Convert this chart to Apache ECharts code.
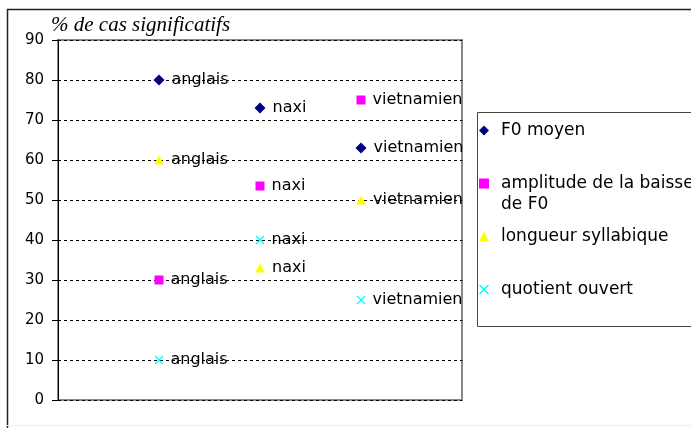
<!DOCTYPE html>
<html>
<head>
<meta charset="utf-8">
<script src="https://cdn.jsdelivr.net/npm/echarts@6/dist/echarts.min.js"></script>
<style>html,body{margin:0;padding:0;background:#fff;}#c{width:691px;height:428px;}</style>
</head>
<body>
<div id="c"></div>
<script>
const categories = ['anglais', 'naxi', 'vietnamien'];
const seriesNames = ['F0 moyen', 'amplitude de la baisse de F0', 'longueur syllabique', 'quotient ouvert'];
const f0Moyen = [80, 73, 63];
const amplitudeBaisse = [30, 53.5, 75];
const longueurSyllabique = [60, 33, 50];
const quotientOuvert = [10, 40, 25];
const yTicks = [0, 10, 20, 30, 40, 50, 60, 70, 80, 90];
const axisTitle = '% de cas significatifs';

const colors = ['#000080', '#FF00FF', '#FFFF00', '#00FFFF'];
const symbols = ['diamond', 'rect', 'triangle',
  'path://M0,1L1,0L5,4L9,0L10,1L6,5L10,9L9,10L5,6L1,10L0,9L4,5Z'];
const sizes = [[11, 11], [9, 9], [10, 9], [9, 9]];
const allValues = [f0Moyen, amplitudeBaisse, longueurSyllabique, quotientOuvert];

const FONT = 'DejaVu Sans';

const chart = echarts.init(document.getElementById('c'), null, {renderer: 'canvas'});
chart.setOption({
  backgroundColor: '#fff',
  animation: false,
  title: {
    text: axisTitle,
    left: 46, top: 10,
    textStyle: {fontFamily: 'Liberation Serif', fontStyle: 'italic', fontWeight: 'normal', fontSize: 21, color: '#000'}
  },
  grid: {left: 58, top: 40, right: 229, bottom: 28, show: true, borderColor: '#888', borderWidth: 2, backgroundColor: 'transparent'},
  xAxis: {type: 'value', min: 0, max: 4, show: false},
  yAxis: {
    type: 'value', min: yTicks[0], max: yTicks[yTicks.length - 1], interval: 10,
    axisLine: {show: true, lineStyle: {color: '#000', width: 1}},
    axisTick: {show: true, length: 6, lineStyle: {color: '#000'}},
    axisLabel: {fontFamily: FONT, fontSize: 15, color: '#000', margin: 14},
    splitLine: {show: true, lineStyle: {color: '#000', type: [3, 3], width: 1}}
  },
  legend: {
    orient: 'vertical', left: 479, top: 122, itemGap: 36, padding: 0,
    itemWidth: 10, itemHeight: 10,
    textStyle: {fontFamily: FONT, fontSize: 17, color: '#000',
      rich: {t: {fontFamily: FONT, fontSize: 17, color: '#000', padding: [0, 0, 0, 7]}}},
    formatter: function (n) { return '{t|' + (n === seriesNames[1] ? 'amplitude de la baisse' : n) + '}'; },
    data: seriesNames
  },
  graphic: [
    {type: 'line', shape: {x1: 7, y1: 9.5, x2: 691, y2: 9.5}, style: {stroke: '#222', lineWidth: 1.5}, silent: true},
    {type: 'line', shape: {x1: 7.5, y1: 9, x2: 7.5, y2: 428}, style: {stroke: '#222', lineWidth: 1.5}, silent: true},
    {type: 'line', shape: {x1: 7, y1: 425.5, x2: 691, y2: 425.5}, style: {stroke: '#eee', lineWidth: 1}, silent: true},
    {type: 'rect', shape: {x: 477.5, y: 112.5, width: 220, height: 214}, style: {fill: 'none', stroke: '#444', lineWidth: 1}, silent: true, z: -1},
    {type: 'text', left: 501, top: 196, style: {text: 'de F0', fontFamily: FONT, fontSize: 17, fill: '#000'}, silent: true}
  ],
  series: seriesNames.map(function (name, s) {
    return {
      name: name,
      type: 'scatter',
      symbol: symbols[s],
      symbolSize: sizes[s],
      itemStyle: {color: colors[s], opacity: 1},
      label: {
        show: true, position: 'right', distance: 7,
        fontFamily: FONT, fontSize: 16, color: '#000',
        formatter: function (p) { return categories[p.dataIndex]; }
      },
      data: allValues[s].map(function (v, i) { return [i + 1, v]; })
    };
  })
});
</script>
</body>
</html>
